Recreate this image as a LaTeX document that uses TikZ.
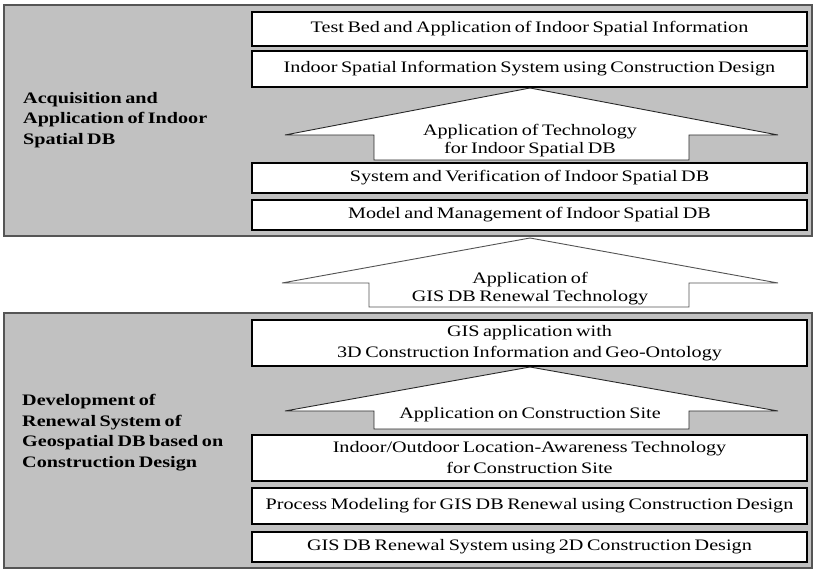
\documentclass[tikz,border=0pt]{standalone}
\usepackage{fontspec}
\setmainfont{Liberation Serif}[FakeStretch=1.26, WordSpace=0.7]
\definecolor{panelgray}{RGB}{193,193,193}
\definecolor{panelline}{RGB}{85,85,85}
\definecolor{arrowline}{RGB}{40,40,40}
\begin{document}
\begin{tikzpicture}[x=1pt,y=-1pt,
  panel/.style={draw=panelline, fill=panelgray, line width=1.6pt},
  stagebox/.style={draw=black, fill=white, line width=1.5pt, minimum width=555pt,
    inner sep=0pt, align=center, font=\fontsize{16}{21}\selectfont},
  uparrow/.style={draw=arrowline, fill=white, line width=0.9pt, line join=miter},
  arrowtext/.style={align=center, inner sep=0pt, font=\fontsize{16}{18}\selectfont},
  sidelabel/.style={anchor=west, align=left, inner sep=0pt,
    font=\bfseries\fontsize{16}{20.5}\selectfont}]
% canvas
\fill[white] (0,0) rectangle (814,570);
\useasboundingbox (0,0) rectangle (814,570);

% grey panels
\draw[panel] (4,5) rectangle (812,236);
\draw[panel] (4,313) rectangle (812,568);

% upper panel: stages
\node[stagebox, minimum height=34pt] (b1) at (529.5,29)
  {Test Bed and Application of Indoor Spatial Information};
\node[stagebox, minimum height=36pt] (b2) at (529.5,69)
  {Indoor Spatial Information System using Construction Design};
\node[stagebox, minimum height=30pt] (b3) at (529.5,178)
  {System and Verification of Indoor Spatial DB};
\node[stagebox, minimum height=30pt] (b4) at (529.5,215)
  {Model and Management of Indoor Spatial DB};

% upper arrow
\draw[uparrow] (530,88) -- (778,135) -- (689,135) -- (689,160) -- (374,160)
  -- (374,135) -- (285,135) -- cycle;
\node[arrowtext] (a1) at (530,141)
  {Application of Technology\\for Indoor Spatial DB};

% arrow between the panels
\draw[uparrow, draw=arrowline!80] (530,238) -- (778,283) -- (689,283) -- (689,307)
  -- (369,307) -- (369,283) -- (282,283) -- cycle;
\node[arrowtext] (a2) at (530,289)
  {Application of\\GIS DB Renewal Technology};

% lower panel: stages
\node[stagebox, minimum height=46pt] (b5) at (529.5,343)
  {GIS application with\\3D Construction Information and Geo-Ontology};
\node[stagebox, minimum height=46pt] (b6) at (529.5,458)
  {Indoor/Outdoor Location-Awareness Technology\\for Construction Site};
\node[stagebox, minimum height=36pt] (b7) at (529.5,506)
  {Process Modeling for GIS DB Renewal using Construction Design};
\node[stagebox, minimum height=30pt] (b8) at (529.5,547)
  {GIS DB Renewal System using 2D Construction Design};

% lower arrow
\draw[uparrow] (530,367) -- (778,411) -- (689,411) -- (689,429) -- (374,429)
  -- (374,411) -- (285,411) -- cycle;
\node[arrowtext] (a3) at (530,415) {Application on Construction Site};

% panel titles
\node[sidelabel] (t1) at (23,120)
  {Acquisition and\\Application of Indoor\\Spatial DB};
\node[sidelabel] (t2) at (22,432.5)
  {Development of\\Renewal System of\\Geospatial DB based on\\Construction Design};
\end{tikzpicture}
\end{document}
